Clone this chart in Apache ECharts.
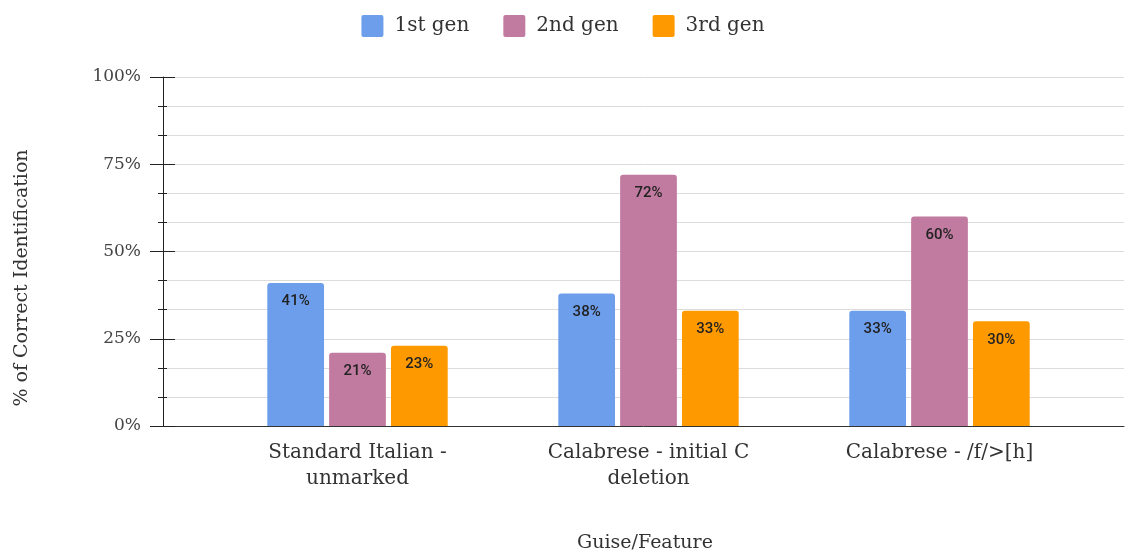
<!DOCTYPE html>
<html>
<head>
<meta charset="utf-8">
<script src="https://cdn.jsdelivr.net/npm/echarts@6/dist/echarts.min.js"></script>
<style>
  html, body { margin: 0; padding: 0; background: #fff; }
  #chart { width: 1126px; height: 556px; }
</style>
</head>
<body>
<div id="chart"></div>
<script>
// categories and series values (percent)
var categories = ["Standard Italian -\nunmarked", "Calabrese - initial C\ndeletion", "Calabrese - /f/>[h]"];
var gen1 = [41, 38, 33];
var gen2 = [21, 72, 60];
var gen3 = [23, 33, 30];
var seriesNames = ["1st gen", "2nd gen", "3rd gen"];
var colors = ["#6d9eeb", "#c27ba0", "#ff9900"];

var serif = "'DejaVu Serif', serif";

var chart = echarts.init(document.getElementById("chart"));

function barSeries(name, data, color) {
  return {
    name: name,
    type: "bar",
    xAxisIndex: 1,
    yAxisIndex: 2,
    data: data,
    barGap: "9%",
    barCategoryGap: "38%",
    itemStyle: { color: color, borderRadius: [3, 3, 0, 0] },
    label: {
      show: true,
      position: "insideTop",
      distance: 11,
      formatter: "{c}%",
      color: "#222",
      fontFamily: "Roboto, sans-serif",
      fontWeight: 500,
      fontSize: 15
    }
  };
}

chart.setOption({
  backgroundColor: "#fff",
  animation: false,
  color: colors,
  legend: {
    top: 10,
    left: "center",
    itemWidth: 22,
    itemHeight: 22,
    itemGap: 34,
    icon: "path://M2,0 L20,0 Q22,0 22,2 L22,20 Q22,22 20,22 L2,22 Q0,22 0,20 L0,2 Q0,0 2,0 Z",
    textStyle: { fontFamily: serif, fontSize: 20, color: "#333", padding: [0, 0, 0, 6] },
    data: seriesNames
  },
  grid: [
    // frame grid: y axis, gridlines and baseline
    { left: 163, right: 2, top: 77, bottom: 130 },
    // bar grid
    { left: 212, right: 41, top: 77, bottom: 130 }
  ],
  xAxis: [
    {
      gridIndex: 0,
      type: "value",
      min: 0,
      max: 1,
      axisLine: { show: true, lineStyle: { color: "#333", width: 1 } },
      axisTick: { show: false },
      axisLabel: { show: false },
      splitLine: { show: false }
    },
    {
      gridIndex: 1,
      type: "category",
      data: categories,
      axisLine: { show: false },
      axisTick: { show: false },
      axisLabel: {
        margin: 14,
        fontFamily: serif,
        fontSize: 20,
        lineHeight: 26,
        color: "#333"
      }
    }
  ],
  yAxis: [
    {
      gridIndex: 0,
      type: "value",
      position: "left",
      min: 0,
      max: 100,
      interval: 25,
      axisLine: { show: true, lineStyle: { color: "#222" } },
      axisTick: { show: true, length: 13, lineStyle: { color: "#222" } },
      minorTick: { show: true, splitNumber: 3, length: 5, lineStyle: { color: "#222" } },
      axisLabel: {
        margin: 22,
        formatter: "{value}%",
        fontFamily: serif,
        fontSize: 17,
        color: "#444"
      },
      splitLine: { show: true, lineStyle: { color: "#dcdcdc" } },
      minorSplitLine: { show: true, lineStyle: { color: "#dcdcdc" } }
    },
    {
      // inward half of the ticks on the same axis
      gridIndex: 0,
      type: "value",
      position: "left",
      offset: 0,
      min: 0,
      max: 100,
      interval: 25,
      axisLine: { show: false },
      axisTick: { show: true, inside: true, length: 12, lineStyle: { color: "#222" } },
      minorTick: { show: true, splitNumber: 3, length: 4, lineStyle: { color: "#222" } },
      axisLabel: { show: false },
      splitLine: { show: false }
    },
    {
      gridIndex: 1,
      type: "value",
      min: 0,
      max: 100,
      show: false
    }
  ],
  graphic: [
    {
      type: "text",
      x: 22,
      y: 278,
      rotation: Math.PI / 2,
      style: {
        text: "% of Correct Identification",
        fontFamily: serif,
        fontSize: 19,
        fill: "#333",
        align: "center",
        verticalAlign: "middle"
      }
    },
    {
      type: "text",
      x: 645,
      y: 543,
      style: {
        text: "Guise/Feature",
        fontFamily: serif,
        fontSize: 19,
        fill: "#333",
        align: "center",
        verticalAlign: "middle"
      }
    }
  ],
  series: [
    barSeries(seriesNames[0], gen1, colors[0]),
    barSeries(seriesNames[1], gen2, colors[1]),
    barSeries(seriesNames[2], gen3, colors[2])
  ]
});
</script>
</body>
</html>
